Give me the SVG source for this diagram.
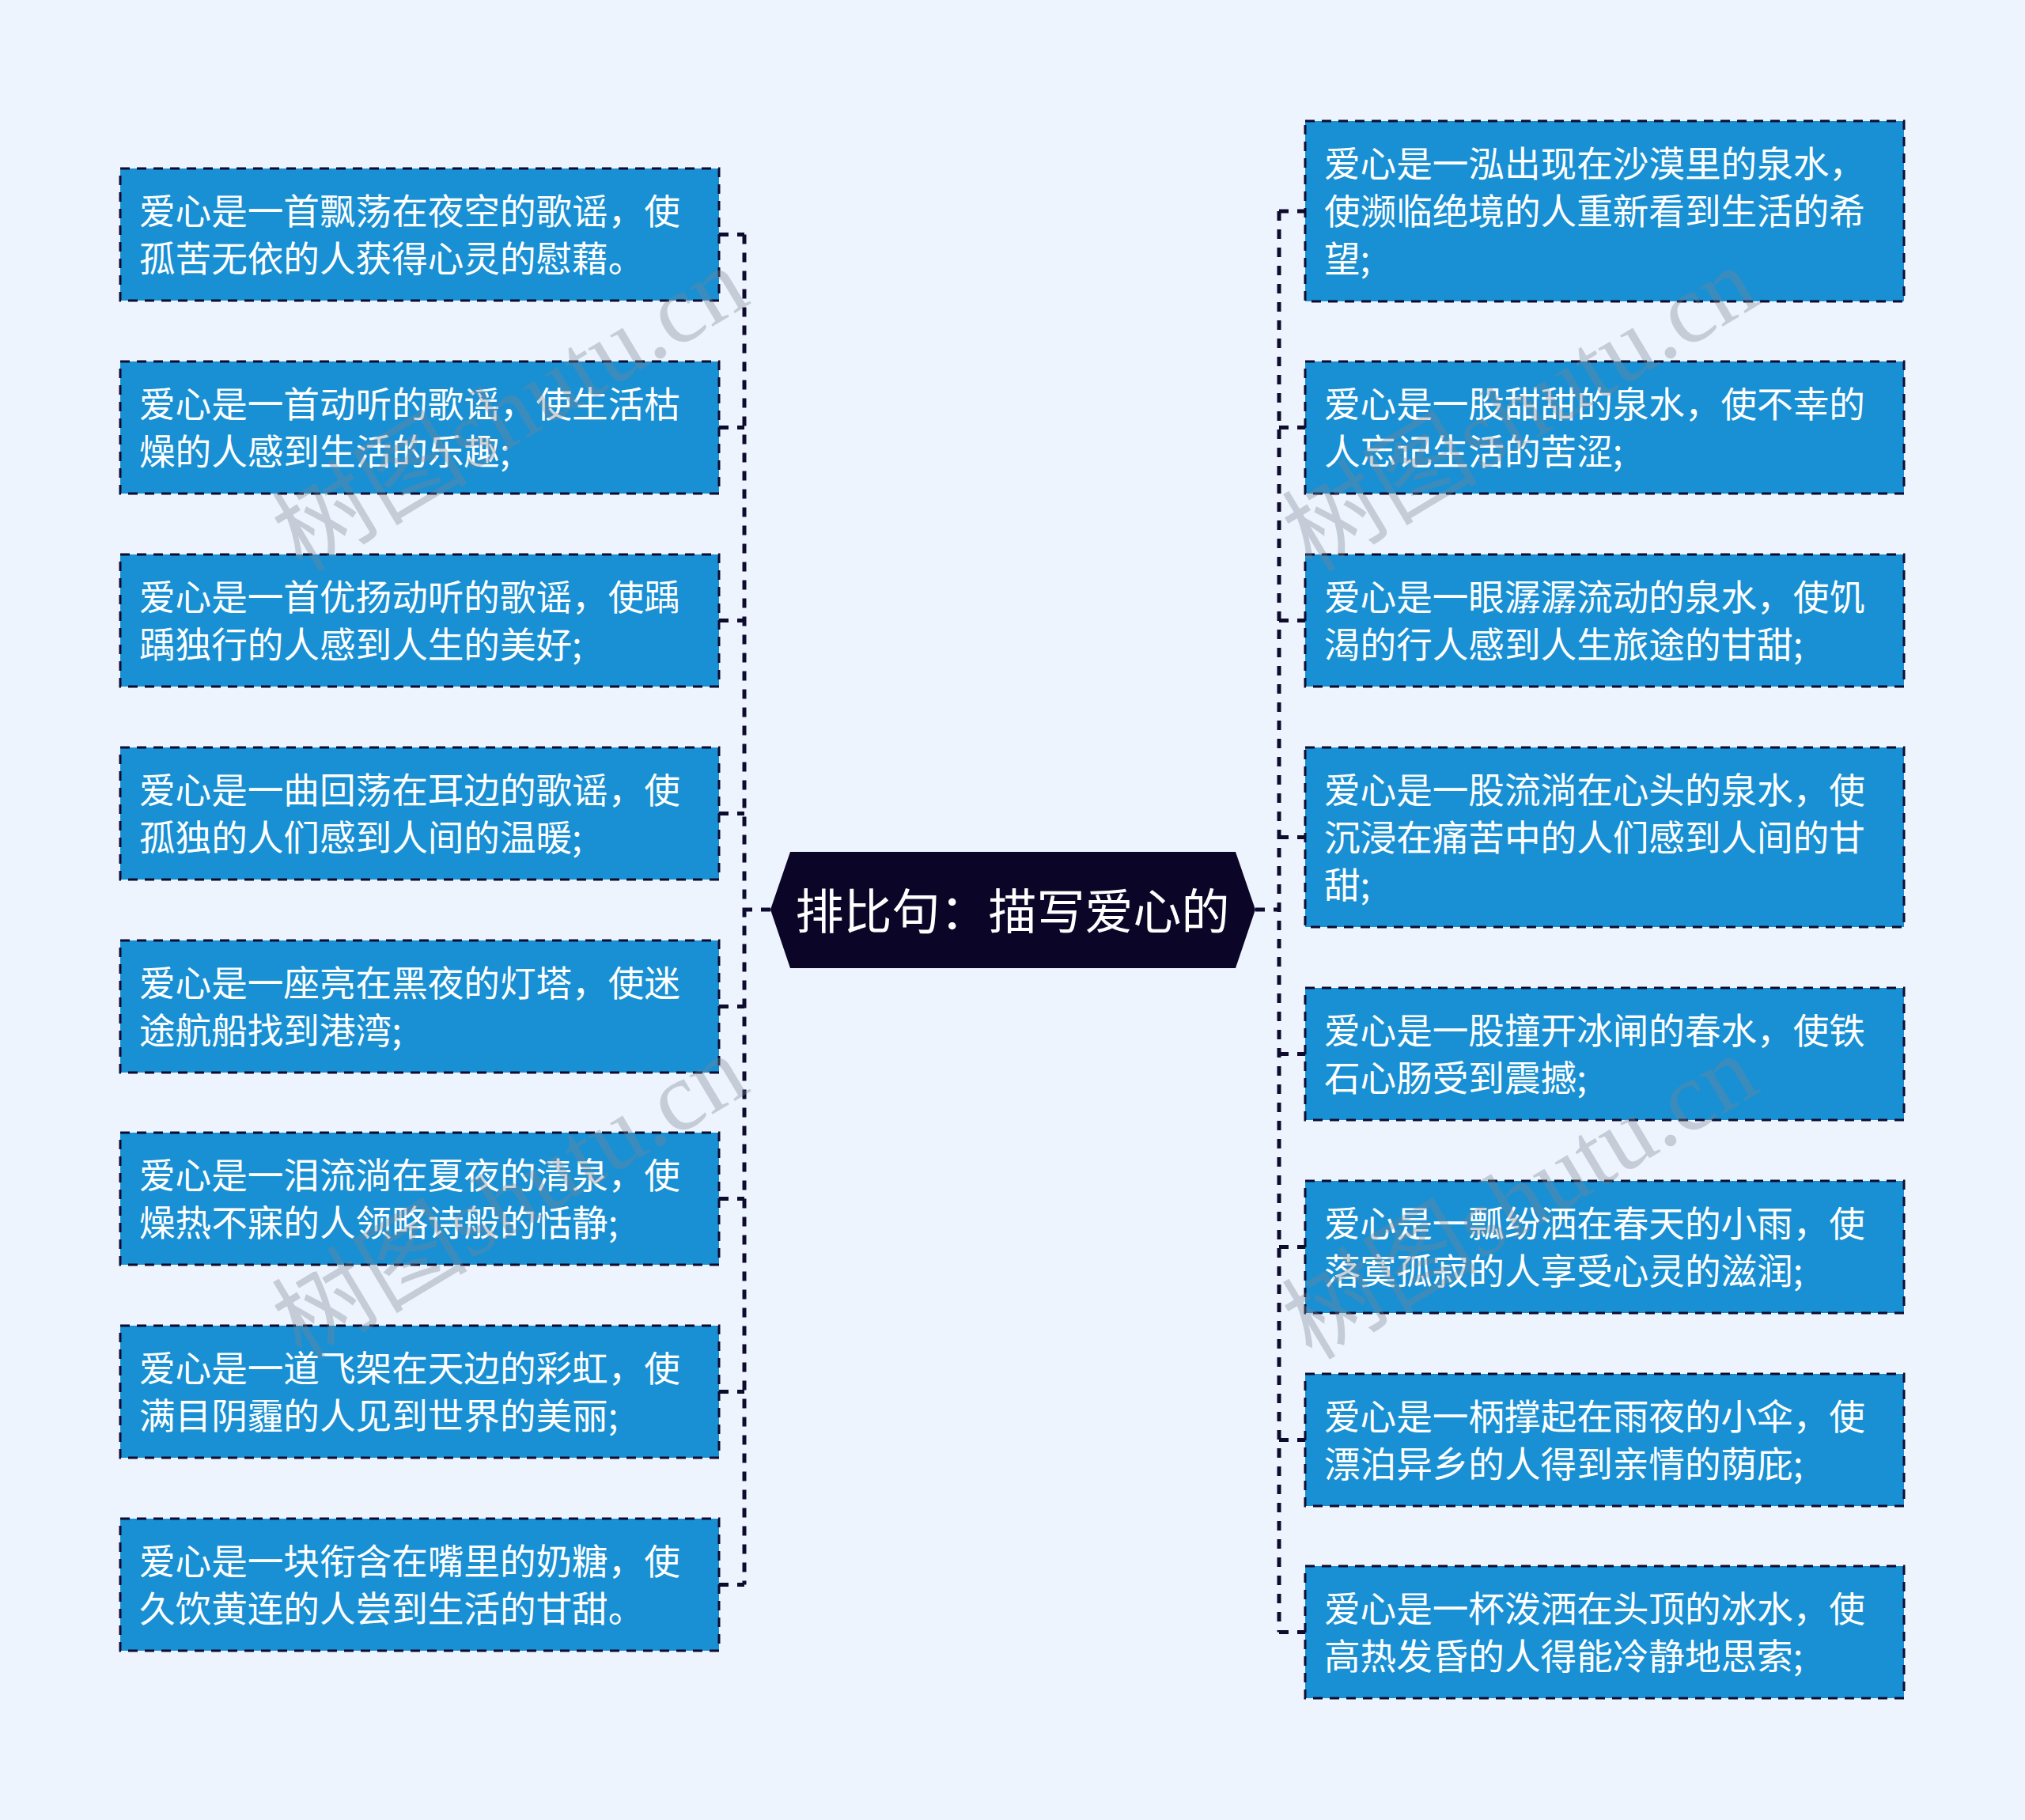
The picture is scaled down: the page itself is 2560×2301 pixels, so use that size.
<svg xmlns="http://www.w3.org/2000/svg" width="2560" height="2301" viewBox="0 0 2560 2301">
<style>
.bg{fill:#EEF4FE}
.node rect{fill:#1890D3;stroke:#0E0B2E;stroke-width:3;stroke-dasharray:12 9}
.node text{fill:#FFFFFF;font-family:"Noto Sans CJK SC","Noto Sans",sans-serif;font-size:45.6px;dominant-baseline:central}
.conn{fill:none;stroke:#0E0B2E;stroke-width:5;stroke-dasharray:12 11}
.center path{fill:#0B0628}
.center text{fill:#FFFFFF;font-family:"Noto Sans CJK SC","Noto Sans",sans-serif;font-size:61px;text-anchor:middle;dominant-baseline:central}
.wm{fill:#7A8494;fill-opacity:0.36;font-family:"Liberation Serif","Noto Sans CJK SC",serif;font-size:124px;text-anchor:middle;dominant-baseline:central}
</style>
<rect class="bg" x="0" y="0" width="2560" height="2301"/>
<g id="connectors">
<path class="conn" d="M974 1150 H941 M941 296.5 V2003.5 M909 296.5 H941 M909 540.5 H941 M909 784.5 H941 M909 1028.5 H941 M909 1272.5 H941 M909 1515.5 H941 M909 1759.5 H941 M909 2003.5 H941"/>
<path class="conn" d="M1587 1150 H1617 M1617 267 V2063.5 M1617 267 H1650 M1617 540.5 H1650 M1617 784.5 H1650 M1617 1058.5 H1650 M1617 1332.5 H1650 M1617 1576.5 H1650 M1617 1820.5 H1650 M1617 2063.5 H1650"/>
</g>
<g id="center" class="center">
<path d="M999 1077 H1562 L1587 1150 L1562 1224 H999 L974 1150 Z"/>
<text x="1280" y="1148">排比句：描写爱心的</text>
</g>
<g id="L1" class="node"><rect x="152" y="213" width="757" height="167"/><text x="176" y="264">爱心是一首飘荡在夜空的歌谣，使</text><text x="176" y="324">孤苦无依的人获得心灵的慰藉。</text></g>
<g id="L2" class="node"><rect x="152" y="457" width="757" height="167"/><text x="176" y="508">爱心是一首动听的歌谣，使生活枯</text><text x="176" y="568">燥的人感到生活的乐趣;</text></g>
<g id="L3" class="node"><rect x="152" y="701" width="757" height="167"/><text x="176" y="752">爱心是一首优扬动听的歌谣，使踽</text><text x="176" y="812">踽独行的人感到人生的美好;</text></g>
<g id="L4" class="node"><rect x="152" y="945" width="757" height="167"/><text x="176" y="996">爱心是一曲回荡在耳边的歌谣，使</text><text x="176" y="1056">孤独的人们感到人间的温暖;</text></g>
<g id="L5" class="node"><rect x="152" y="1189" width="757" height="167"/><text x="176" y="1240">爱心是一座亮在黑夜的灯塔，使迷</text><text x="176" y="1300">途航船找到港湾;</text></g>
<g id="L6" class="node"><rect x="152" y="1432" width="757" height="167"/><text x="176" y="1483">爱心是一泪流淌在夏夜的清泉，使</text><text x="176" y="1543">燥热不寐的人领略诗般的恬静;</text></g>
<g id="L7" class="node"><rect x="152" y="1676" width="757" height="167"/><text x="176" y="1727">爱心是一道飞架在天边的彩虹，使</text><text x="176" y="1787">满目阴霾的人见到世界的美丽;</text></g>
<g id="L8" class="node"><rect x="152" y="1920" width="757" height="167"/><text x="176" y="1971">爱心是一块衔含在嘴里的奶糖，使</text><text x="176" y="2031">久饮黄连的人尝到生活的甘甜。</text></g>
<g id="R1" class="node"><rect x="1650" y="153" width="757" height="228"/><text x="1674" y="204">爱心是一泓出现在沙漠里的泉水，</text><text x="1674" y="264">使濒临绝境的人重新看到生活的希</text><text x="1674" y="324">望;</text></g>
<g id="R2" class="node"><rect x="1650" y="457" width="757" height="167"/><text x="1674" y="508">爱心是一股甜甜的泉水，使不幸的</text><text x="1674" y="568">人忘记生活的苦涩;</text></g>
<g id="R3" class="node"><rect x="1650" y="701" width="757" height="167"/><text x="1674" y="752">爱心是一眼潺潺流动的泉水，使饥</text><text x="1674" y="812">渴的行人感到人生旅途的甘甜;</text></g>
<g id="R4" class="node"><rect x="1650" y="945" width="757" height="227"/><text x="1674" y="996">爱心是一股流淌在心头的泉水，使</text><text x="1674" y="1056">沉浸在痛苦中的人们感到人间的甘</text><text x="1674" y="1116">甜;</text></g>
<g id="R5" class="node"><rect x="1650" y="1249" width="757" height="167"/><text x="1674" y="1300">爱心是一股撞开冰闸的春水，使铁</text><text x="1674" y="1360">石心肠受到震撼;</text></g>
<g id="R6" class="node"><rect x="1650" y="1493" width="757" height="167"/><text x="1674" y="1544">爱心是一瓢纷洒在春天的小雨，使</text><text x="1674" y="1604">落寞孤寂的人享受心灵的滋润;</text></g>
<g id="R7" class="node"><rect x="1650" y="1737" width="757" height="167"/><text x="1674" y="1788">爱心是一柄撑起在雨夜的小伞，使</text><text x="1674" y="1848">漂泊异乡的人得到亲情的荫庇;</text></g>
<g id="R8" class="node"><rect x="1650" y="1980" width="757" height="167"/><text x="1674" y="2031">爱心是一杯泼洒在头顶的冰水，使</text><text x="1674" y="2091">高热发昏的人得能冷静地思索;</text></g>
<g id="watermark">
<text class="wm" transform="translate(645 518) rotate(-31)">树图shutu.cn</text>
<text class="wm" transform="translate(1922 518) rotate(-31)">树图shutu.cn</text>
<text class="wm" transform="translate(645 1514) rotate(-31)">树图shutu.cn</text>
<text class="wm" transform="translate(1922 1514) rotate(-31)">树图shutu.cn</text>
</g>
</svg>
